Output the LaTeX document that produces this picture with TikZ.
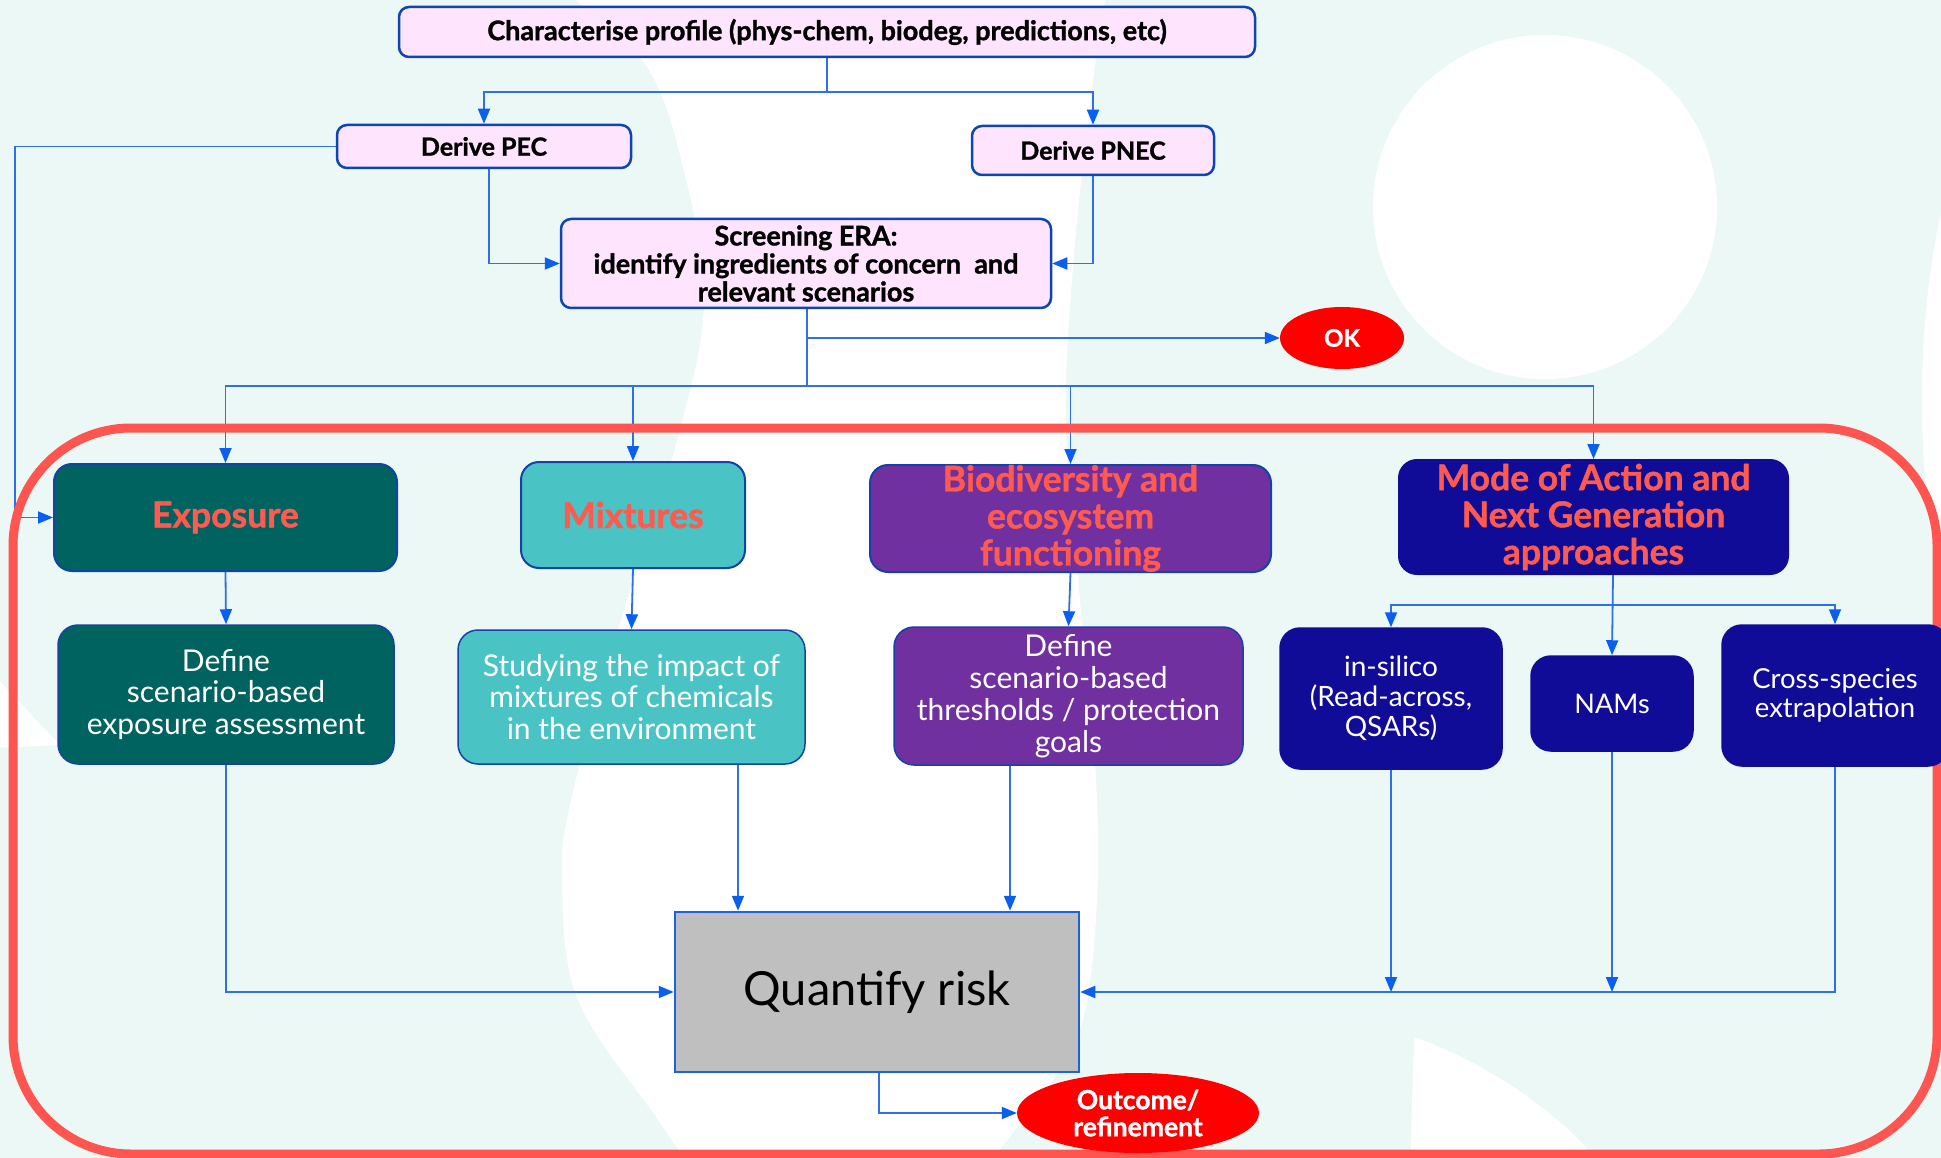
\documentclass[tikz,border=0pt]{standalone}
\usepackage{fontspec}
\setmainfont{Lato}[BoldFeatures={FakeBold=1.2}]
\usetikzlibrary{arrows.meta,shapes.geometric,calc}
\definecolor{mint}{HTML}{ECF8F5}
\definecolor{pinkfill}{HTML}{FEE4FD}
\definecolor{pinkborder}{HTML}{0E45B4}
\definecolor{conn}{HTML}{2E6FEA}
\definecolor{tipc}{HTML}{0A5FEF}
\definecolor{tealc}{HTML}{00635F}
\definecolor{aqua}{HTML}{4AC3C4}
\definecolor{purp}{HTML}{7030A0}
\definecolor{navy}{HTML}{100C98}
\definecolor{coral}{HTML}{FF5A4F}
\definecolor{framered}{HTML}{FF5550}
\definecolor{qgray}{HTML}{BFBFBF}
\definecolor{qborder}{HTML}{1A62E6}
\definecolor{okred}{HTML}{FF0000}
\definecolor{hdborder}{HTML}{1442A8}
\pgfdeclarelayer{bg}
\pgfdeclarelayer{conn}
\pgfdeclarelayer{frm}
\pgfsetlayers{bg,conn,frm,main}
\begin{document}
\begin{tikzpicture}[x=1pt,y=-1pt,
  pinkbox/.style={draw=pinkborder, line width=2.5pt, fill=pinkfill, rounded corners=10pt, inner sep=0pt, align=center, text=black, font=\bfseries\fontsize{27}{28}\selectfont},
  headbox/.style={draw=hdborder, line width=2pt, rounded corners=18pt, inner sep=0pt, align=center, text=coral, font=\bfseries\fontsize{35.5}{37}\selectfont},
  subbox/.style={draw=hdborder, line width=1.5pt, rounded corners=20pt, inner sep=0pt, align=center, text=white, font=\fontsize{30}{31.5}\selectfont},
  navybox/.style={subbox, draw=navy, fill=navy, font=\fontsize{28}{30}\selectfont},
  redoval/.style={ellipse, fill=okred, inner sep=0pt, align=center, text=white, font=\bfseries\fontsize{24}{27}\selectfont},
  ln/.style={draw=conn, line width=1.8pt},
  arr/.style={draw=conn, line width=1.8pt, -{Triangle[length=15pt,width=12pt,color=tipc]}}
]
\useasboundingbox (0,0) rectangle (1941,1158);

% ---------- nodes ----------
\node[pinkbox, minimum width=856pt, minimum height=50pt] (char) at (827,32) {Characterise profile (phys-chem, biodeg, predictions, etc)};
\node[pinkbox, minimum width=294pt, minimum height=43pt, font=\bfseries\fontsize{25}{28}\selectfont] (pec) at (484,146.5) {Derive PEC};
\node[pinkbox, minimum width=242pt, minimum height=49pt, font=\bfseries\fontsize{25}{28}\selectfont] (pnec) at (1093,150.5) {Derive PNEC};
\node[pinkbox, minimum width=490pt, minimum height=89pt] (scr) at (806,263.5) {Screening ERA:\\identify ingredients of concern\ \ and\\relevant scenarios};
\node[redoval, minimum width=124pt, minimum height=62pt] (ok) at (1342,338) {OK};

\node[headbox, fill=tealc, minimum width=343pt, minimum height=107pt] (expo) at (225.5,517.5) {Exposure};
\node[headbox, fill=aqua, minimum width=224pt, minimum height=106pt] (mix) at (633,515) {Mixtures};
\node[headbox, fill=purp, minimum width=401pt, minimum height=107pt] (bio) at (1070.5,518.5) {Biodiversity and\\ecosystem\\functioning};
\node[headbox, draw=navy, fill=navy, minimum width=389pt, minimum height=114pt] (moa) at (1593.5,517) {Mode of Action and\\Next Generation\\approaches};

\node[subbox, fill=tealc, minimum width=336pt, minimum height=139pt] (defexp) at (226,694.5) {Define\\scenario-based\\exposure assessment};
\node[subbox, fill=aqua, minimum width=347pt, minimum height=134pt] (stud) at (631.5,697) {Studying the impact of\\mixtures of chemicals\\in the environment};
\node[subbox, fill=purp, minimum width=349pt, minimum height=138pt, font=\fontsize{30}{32}\selectfont] (defthr) at (1068.5,696) {Define\\scenario-based\\thresholds / protection\\goals};
\node[navybox, minimum width=222pt, minimum height=141pt] (insil) at (1391,698.5) {in-silico\\(Read-across,\\QSARs)};
\node[navybox, minimum width=162pt, minimum height=95pt, font=\fontsize{27}{30}\selectfont] (nams) at (1612,703.5) {NAMs};
\node[navybox, minimum width=226pt, minimum height=141pt, font=\fontsize{27.5}{28.5}\selectfont] (cross) at (1835,695.5) {Cross-species\\extrapolation};

\node[draw=qborder, line width=2.5pt, fill=qgray, minimum width=404pt, minimum height=160pt, inner sep=0pt, font=\fontsize{47}{52}\selectfont] (q) at (877,992) {Quantify risk};
\node[redoval, minimum width=242pt, minimum height=80pt, font=\bfseries\fontsize{26.5}{27}\selectfont] (out) at (1138,1113) {Outcome/\\refinement};

% ---------- background ----------
\begin{pgfonlayer}{bg}
\fill[mint] (0,0) rectangle (1941,1158);
\fill[white] plot[smooth, tension=0.6] coordinates {(560,-20) (576,0) (647,67) (683,167) (704,300) (679,433) (617,633) (571,800) (562,883) (578,1000) (656,1117) (700,1180)}
  -- plot[smooth, tension=0.6] coordinates {(975,1180) (1030,1110) (1080,1030) (1097,900) (1095,760) (1080,600) (1066,430) (1072,280) (1088,120) (1105,0) (1110,-20)} -- cycle;
\fill[white] (1545,207) circle[radius=172];
\fill[white] (2010,400) ellipse[x radius=88, y radius=300];
\fill[white] (1410,1170) -- (1414,1037) .. controls (1480,1060) and (1560,1110) .. (1605,1170) -- cycle;
\fill[white] (-5,676) -- (60,745) -- (-5,748) -- cycle;
\end{pgfonlayer}

% ---------- connectors ----------
\begin{pgfonlayer}{conn}
\coordinate (j1) at (827,92);
\draw[ln] (char.south) -- (j1);
\draw[arr] (j1) -| (pec.north);
\draw[arr] (j1) -| (pnec.north);
\coordinate (pecx) at (489,0);
\draw[arr] (pec.south -| pecx) |- (scr.west);
\draw[arr] (pnec.south) |- (scr.east);
\coordinate (lx) at (15,0);
\draw[arr] (pec.west) -- (pec.west -| lx) |- (expo.west);
\coordinate (j2) at (807,386);
\draw[ln] (scr.south -| j2) -- (j2);
\draw[arr] (ok.west -| j2) -- (ok.west);
\draw[arr] (j2) -| (expo.north);
\draw[arr] (j2) -| (mix.north);
\draw[arr] (j2) -| (bio.north);
\draw[arr] (j2) -| (moa.north);
\draw[arr] (expo.south) -- (defexp.north);
\draw[arr] (mix.south) -- (stud.north);
\draw[arr] (bio.south) -- (defthr.north);
\coordinate (j3) at (1613,605);
\draw[arr] (moa.south -| j3) -- (nams.north);
\draw[arr] (j3) -| (insil.north);
\draw[arr] (j3) -| (cross.north);
\draw[arr] (defexp.south) |- (q.west);
\coordinate (c1) at (738,0);
\coordinate (c2) at (1010,0);
\draw[arr] (stud.south -| c1) -- (q.north -| c1);
\draw[arr] (defthr.south -| c2) -- (q.north -| c2);
\draw[arr] (insil.south) -- (insil.south |- q.east);
\draw[arr] (nams.south) -- (nams.south |- q.east);
\draw[arr] (cross.south) |- (q.east);
\coordinate (c3) at (879,0);
\draw[arr] (q.south -| c3) |- (out.west);
\end{pgfonlayer}

% ---------- frame ----------
\begin{pgfonlayer}{frm}
\draw[framered, line width=9pt, rounded corners=118pt] (13,428) rectangle (1937,1154);
\end{pgfonlayer}
\end{tikzpicture}
\end{document}
